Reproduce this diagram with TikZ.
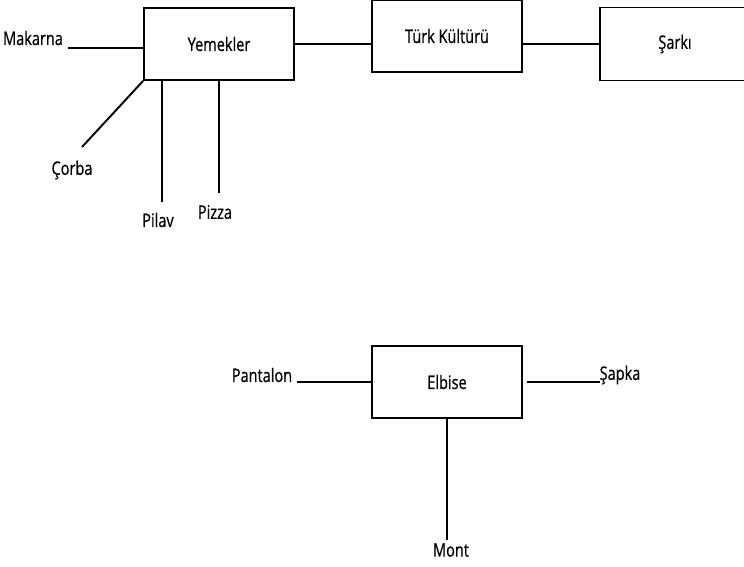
\documentclass[tikz,border=0pt]{standalone}
\usepackage{fontspec}
\setmainfont{Open Sans}[FakeStretch=0.78,FakeBold=0.6]
\begin{document}
\begin{tikzpicture}[x=0.02cm,y=-0.02cm,
  font=\fontsize{10.6}{12}\selectfont,
  kutu/.style={draw,line width=1.1pt,minimum width=3cm,minimum height=1.44cm,inner sep=0pt},
  cizgi/.style={line width=1.1pt},
  every node/.style={align=center}]

\useasboundingbox (0,0) rectangle (744,566);

%boxes
    \node[kutu] (yem) at (219,44) {Yemekler};
    \node[kutu] (turk) at (447,36) {Türk Kültürü};
    \node[kutu,minimum height=1.46cm] (sar) at (675,44) {Şarkı};
    \node[kutu] (elb) at (447,382) {Elbise};

%labels
    \node (mak) at (33,38) {Makarna};
    \node (cor) at (72,170) {Çorba};
    \node (pil) at (158,220) {Pilav};
    \node (piz) at (215,212) {Pizza};
    \node (pan) at (262,375) {Pantalon};
    \node (sap) at (620,375) {Şapka};
    \node (mon) at (451,550) {Mont};

%free line ends
    \coordinate (makE) at (68,48);
    \coordinate (corE) at (82,147);
    \coordinate (pilE) at (162,202);
    \coordinate (pizE) at (219,193);
    \coordinate (panE) at (297,382);
    \coordinate (sapE) at (600,382);
    \coordinate (monE) at (447,540);

%connectors
    \draw[cizgi] (yem.east) -- (yem.east -| turk.west);
    \draw[cizgi] (turk.east |- sar.west) -- (sar.west);
    \draw[cizgi] (yem.west |- makE) -- (makE);
    \draw[cizgi] (yem.south west) -- (corE);
    \draw[cizgi] (pilE |- yem.south) -- (pilE);
    \draw[cizgi] (yem.south) -- (pizE);
    \draw[cizgi] (elb.west) -- (panE);
    \draw[cizgi] ([xshift=0.08cm]elb.east) -- (sapE);
    \draw[cizgi] (elb.south) -- (monE);

\end{tikzpicture}
\end{document}
